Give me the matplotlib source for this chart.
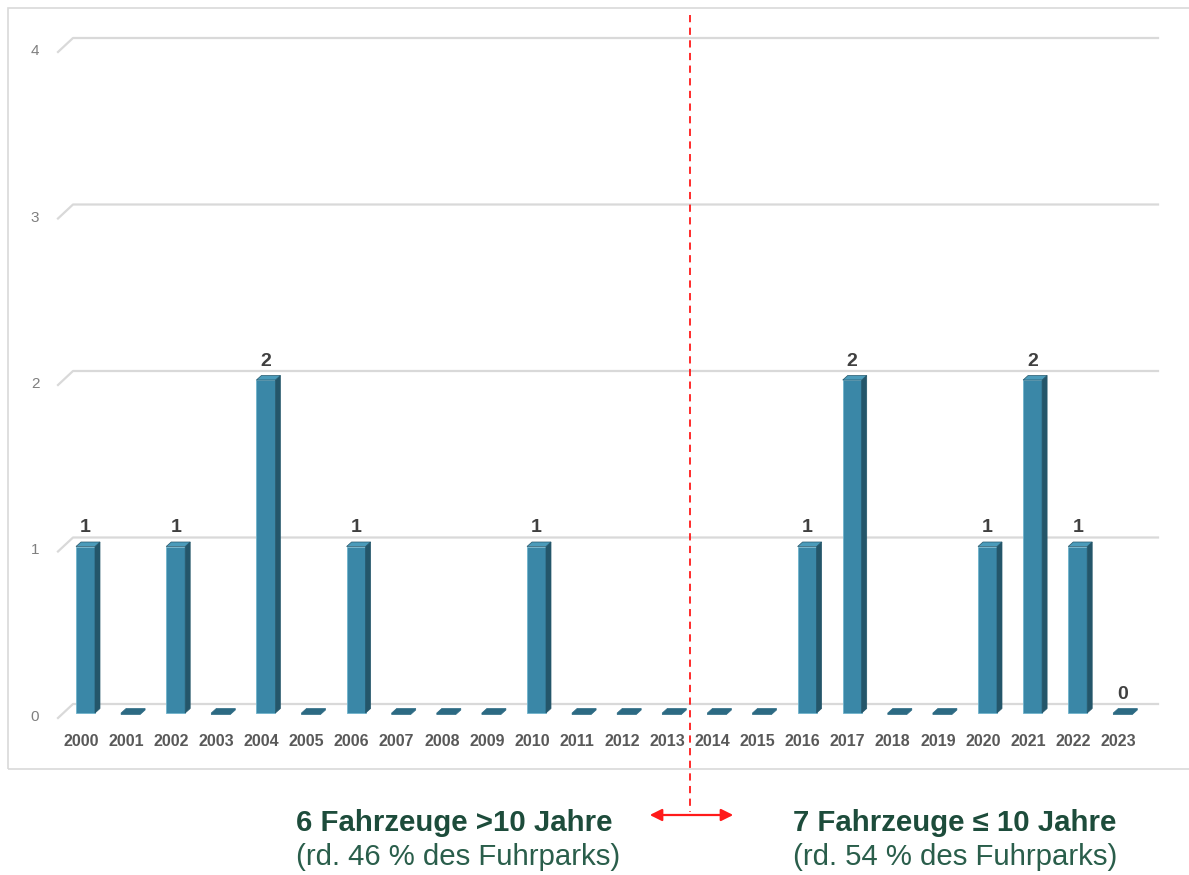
import matplotlib
matplotlib.use("Agg")
import matplotlib.pyplot as plt
from matplotlib.patches import Polygon, Rectangle, FancyArrowPatch
from matplotlib.lines import Line2D

# Fahrzeuge nach Baujahr
years = [str(y) for y in range(2000, 2024)]
counts = [1, 0, 1, 0, 2, 0, 1, 0, 0, 0, 1, 0, 0, 0, 0, 0, 1, 2, 0, 0, 1, 2, 1, 0]
labeled = [1, 0, 1, 0, 1, 0, 1, 0, 0, 0, 1, 0, 0, 0, 0, 0, 1, 1, 0, 0, 1, 1, 1, 1]
y_ticks = [0, 1, 2, 3, 4]

left_title = "6 Fahrzeuge >10 Jahre"
left_sub = "(rd. 46 % des Fuhrparks)"
right_title = "7 Fahrzeuge \u2264 10 Jahre"
right_sub = "(rd. 54 % des Fuhrparks)"

W, H = 1189, 875
FONT = ["Liberation Sans", "DejaVu Sans"]
plt.rcParams["font.family"] = FONT

FRONT = "#3a87a7"
SIDE = "#24566a"
TOP = "#4b9bba"
GRID = "#d9d9d9"
TICK = "#595959"
GREEN = "#1d4c3b"


def fx(px):
    return px / W


def fy(py):
    return 1 - py / H


fig = plt.figure(figsize=(W / 100, H / 100), dpi=100)

# plot area: x in category units, y in vehicle counts
ax_l, ax_r, ax_b, ax_t = 58, 1158, 713, 47
ax = fig.add_axes([fx(ax_l), fy(ax_b), fx(ax_r - ax_l), (ax_b - ax_t) / H])
step = 45.1
c0 = 85.5
ax.set_xlim((ax_l - c0) / step, (ax_r - c0) / step)
ax.set_ylim(0, 4)
ax.axis("off")

ux = 1 / step                 # data units per pixel, x
uy = 4 / (ax_b - ax_t)        # data units per pixel, y

# back-wall gridlines with the little perspective kink on the left
x0 = ax.get_xlim()[0]
x1 = ax.get_xlim()[1]
for v in y_ticks:
    xs = [x0, x0 + 15 * ux, x1]
    ys = [v - 5 * uy, v + 9 * uy, v + 9 * uy]
    ax.plot(xs, ys, color=GRID, lw=1.6, clip_on=False, zorder=1)
    ax.text(x0 - 23 * ux, v - 4 * uy, str(v), ha="center", va="center",
            fontsize=11, color="#7f7f7f")

# pseudo-3D bars
hw = 9.5 * ux
dx, dy = 5 * ux, 4.5 * uy
for i, v in enumerate(counts):
    if v > 0:
        ax.add_patch(Rectangle((i - hw, 0), 2 * hw, v, facecolor=FRONT,
                               edgecolor="#6fb3cc", lw=0.6, zorder=3, clip_on=False))
        ax.add_patch(Polygon([(i + hw, 0), (i + hw + dx, dy), (i + hw + dx, v + dy),
                              (i + hw, v)], closed=True, facecolor=SIDE,
                             edgecolor=SIDE, lw=0.5, zorder=3, clip_on=False))
        ax.add_patch(Polygon([(i - hw, v), (i - hw + dx, v + dy), (i + hw + dx, v + dy),
                              (i + hw, v)], closed=True, facecolor=TOP,
                             edgecolor=SIDE, lw=0.5, zorder=3, clip_on=False))
    else:
        t = 1.5 * uy
        ax.add_patch(Polygon([(i - hw, 0), (i - hw + dx, dy), (i + hw + dx, dy),
                              (i + hw + dx, dy - t), (i + hw, -t), (i - hw, -t)],
                             closed=True, facecolor="#2c6a83", edgecolor="#2c6a83",
                             lw=0.5, zorder=3, clip_on=False))
    if labeled[i]:
        ax.text(i, v + 10 * uy, str(v), ha="center", va="bottom", fontsize=14,
                fontweight="bold", color="#404040")
    ax.text(i - 4.5 * ux, -29 * uy, years[i], ha="center", va="center",
            fontsize=11.5, fontweight="bold", color=TICK)

# chart frame (runs off the right edge)
fig.add_artist(Rectangle((fx(8), fy(769)), fx(1200 - 8), (769 - 8) / H,
                         transform=fig.transFigure, fill=False,
                         edgecolor=GRID, lw=1.2))

# split between older and newer vehicles
fig.add_artist(Line2D([fx(690), fx(690)], [fy(15), fy(812)], transform=fig.transFigure,
                      color="#ff1a1a", lw=1.3, linestyle=(0, (4, 3))))
fig.add_artist(FancyArrowPatch((fx(647), fy(815)), (fx(736), fy(815)),
                               transform=fig.transFigure, arrowstyle="<|-|>",
                               mutation_scale=18, color="#ff1a1a", lw=1.6))

fig.text(fx(296), fy(823), left_title, ha="left", va="center", fontsize=21.2,
         fontweight="bold", color=GREEN)
fig.text(fx(296), fy(857), left_sub, ha="left", va="center", fontsize=21.2,
         color="#2a5e4b")
fig.text(fx(793), fy(823), right_title, ha="left", va="center", fontsize=21.2,
         fontweight="bold", color=GREEN)
fig.text(fx(793), fy(857), right_sub, ha="left", va="center", fontsize=21.2,
         color="#2a5e4b")

fig.savefig("out.png", dpi=100, facecolor="white")
